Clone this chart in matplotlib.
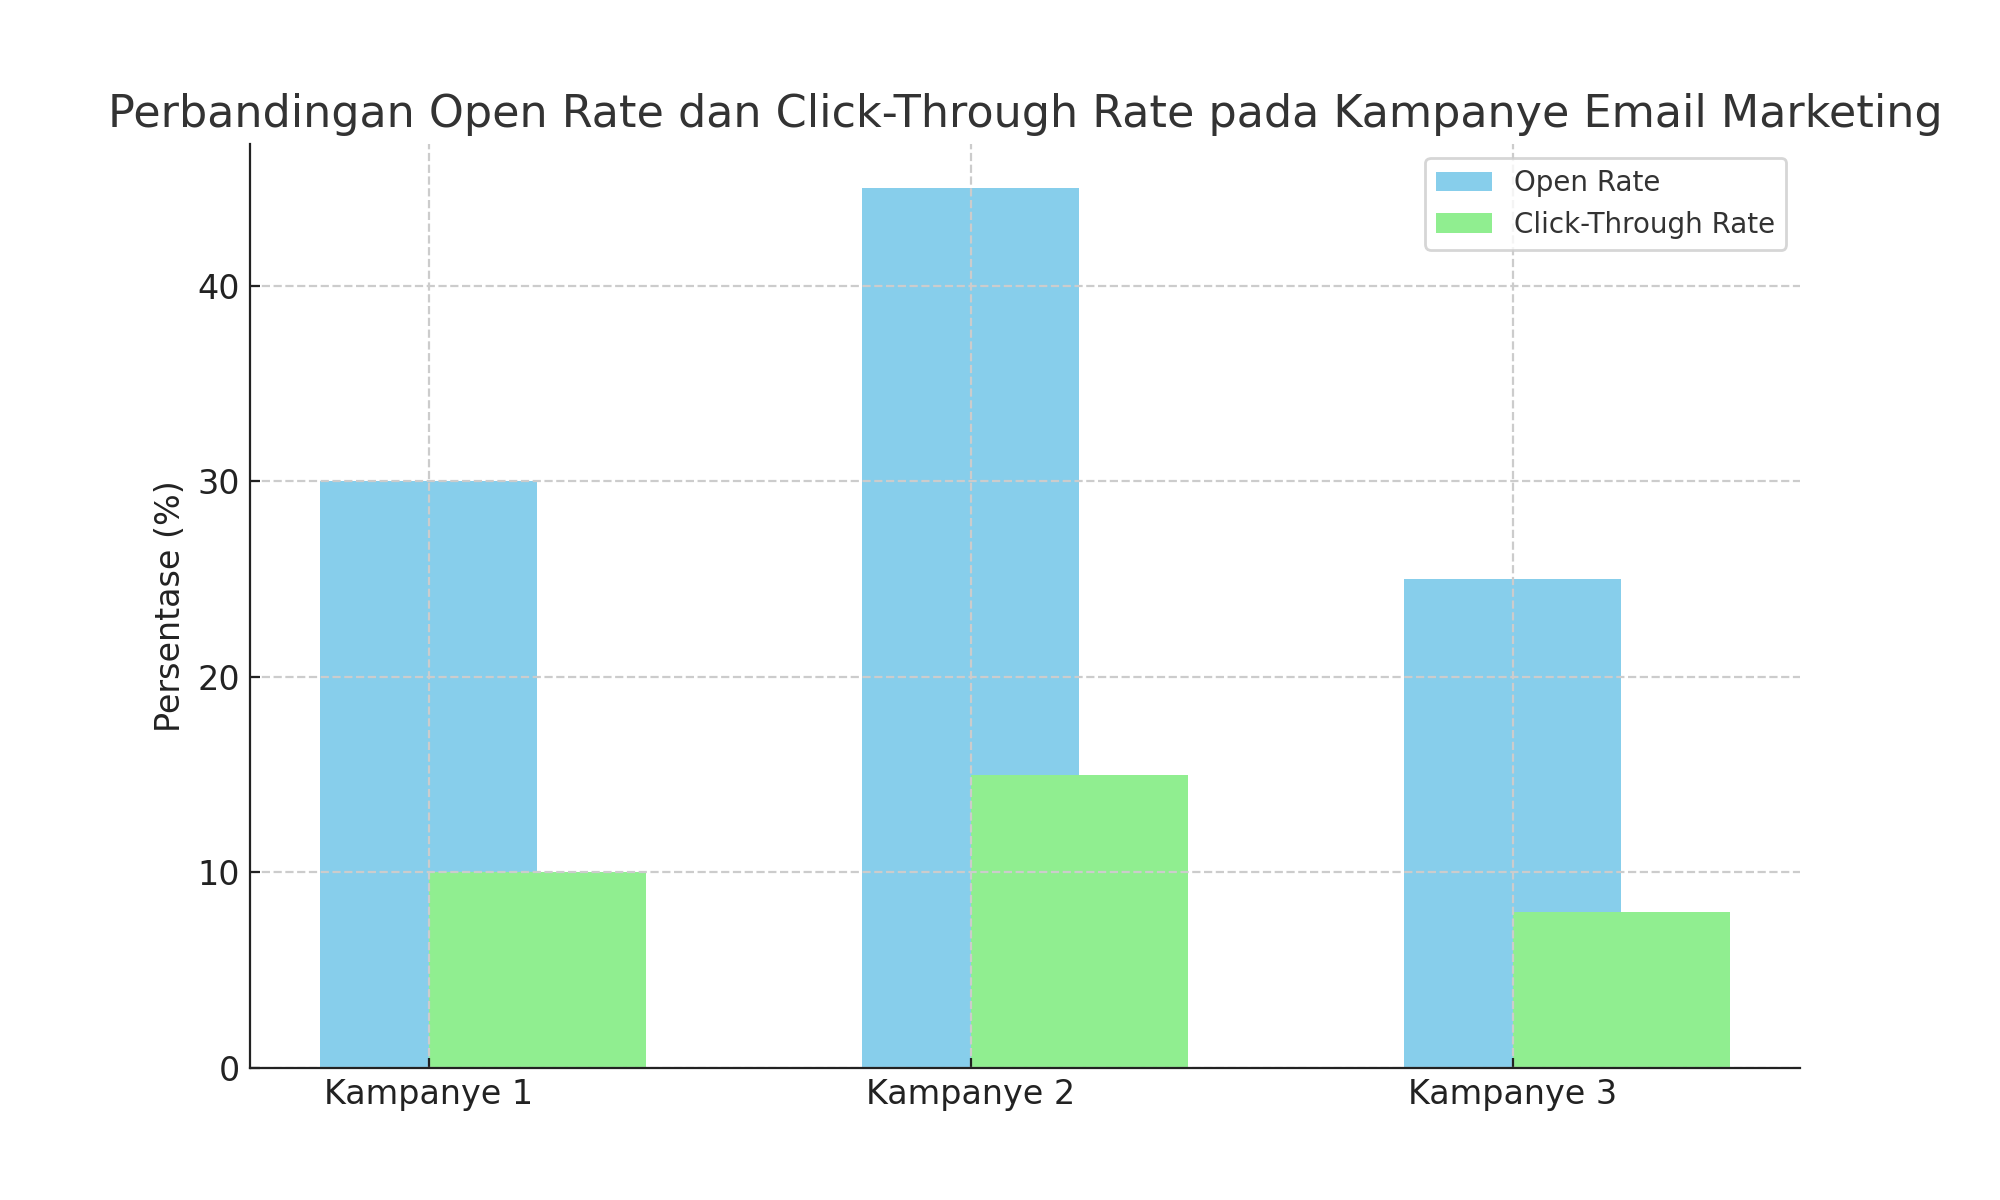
import matplotlib
matplotlib.use('Agg')
import matplotlib.pyplot as plt
import numpy as np

# Data
campaigns = ['Kampanye 1', 'Kampanye 2', 'Kampanye 3']
open_rate = [30, 45, 25]
ctr = [10, 15, 8]

plt.rcParams['text.color'] = '#333333'
plt.rcParams['axes.labelcolor'] = '#222222'
plt.rcParams['xtick.color'] = '#222222'
plt.rcParams['ytick.color'] = '#222222'
plt.rcParams['xtick.direction'] = 'in'
plt.rcParams['ytick.direction'] = 'in'

fig, ax = plt.subplots(figsize=(10, 6), dpi=200)
x = np.arange(len(campaigns))
width = 0.4

ax.bar(x, open_rate, width, color='skyblue', label='Open Rate')
ax.bar(x + width / 2, ctr, width, color='lightgreen', label='Click-Through Rate')

ax.set_title('Perbandingan Open Rate dan Click-Through Rate pada Kampanye Email Marketing',
             fontsize=16, color='#333333')
ax.set_ylabel('Persentase (%)', fontsize=12)
ax.set_xticks(x)
ax.set_xticklabels(campaigns, fontsize=12)
ax.tick_params(axis='y', labelsize=12)
ax.grid(True, linestyle='--', color='#cccccc', linewidth=0.8)
ax.set_axisbelow(False)
ax.spines['top'].set_visible(False)
ax.spines['right'].set_visible(False)
for side in ['left', 'bottom']:
    ax.spines[side].set_color('#222222')
    ax.spines[side].set_zorder(5)
leg = ax.legend(fontsize=10, edgecolor='#cccccc')
for t in leg.get_texts():
    t.set_color('#333333')

plt.savefig('out.png', dpi=200)
plt.close()
